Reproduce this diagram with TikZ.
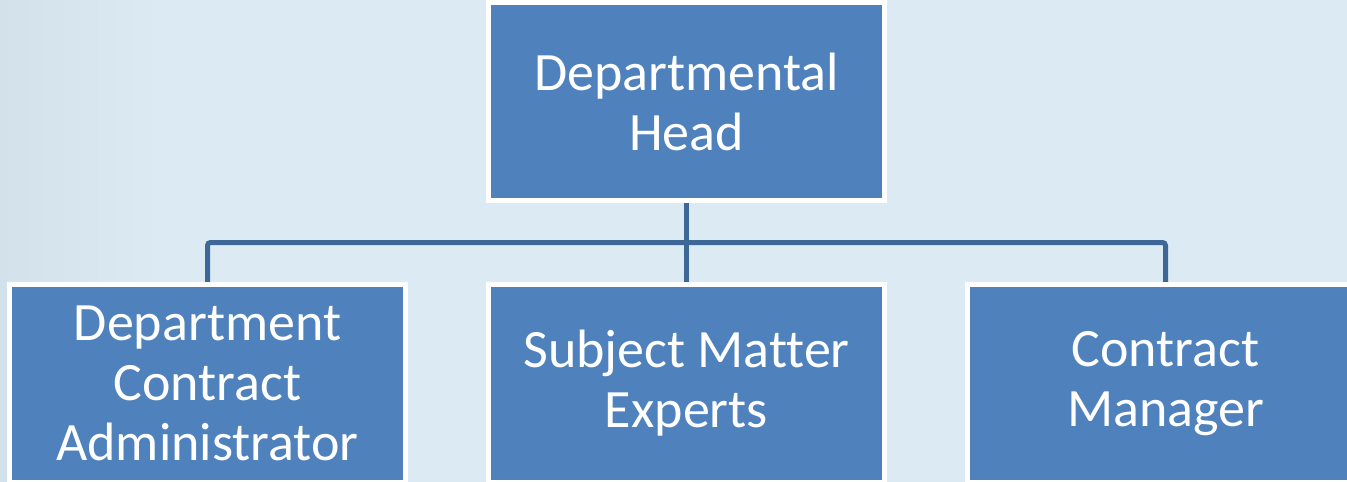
\documentclass[tikz,border=0pt]{standalone}
\usepackage{fontspec}
\setmainfont{Carlito}[Ligatures=CommonOff]
\usetikzlibrary{backgrounds}
\definecolor{bgblue}{HTML}{DCEBF3}
\definecolor{bgleft}{HTML}{D2E1EA}
\definecolor{boxblue}{HTML}{4F81BD}
\definecolor{linkblue}{HTML}{3C6797}
\tikzset{
  orgbox/.style={rectangle, draw=white, line width=5pt, fill=boxblue,
    minimum width=396pt, minimum height=198pt, inner sep=0pt,
    text=white, align=center, font=\fontsize{54}{60}\selectfont},
  conn/.style={draw=linkblue, line width=5pt, rounded corners=3pt}
}
\begin{document}
\begin{tikzpicture}[x=1pt,y=-1pt]
\useasboundingbox (0,0) rectangle (1347,482);
\clip (0,0) rectangle (1347,482);
\node[orgbox] (head) at (686.5,101.5) {Departmental\\Head};
\node[orgbox] (dca) at (207.5,383.5) {Department\\Contract\\Administrator};
\node[orgbox] (sme) at (686.5,383.5) {Subject Matter\\Experts};
\node[orgbox] (cm) at (1165.5,383.5) {Contract\\Manager};
\coordinate (bus) at (686.5,242.5);
\begin{scope}[on background layer]
  \fill[bgblue] (0,0) rectangle (1347,482);
  \shade[left color=bgleft, right color=bgblue, draw=none] (0,0) rectangle (160,482);
  \draw[conn] (head.south) -- (bus);
  \draw[conn] (dca.north) |- (bus) -| (cm.north);
  \draw[conn] (bus) -- (sme.north);
\end{scope}
\end{tikzpicture}
\end{document}
